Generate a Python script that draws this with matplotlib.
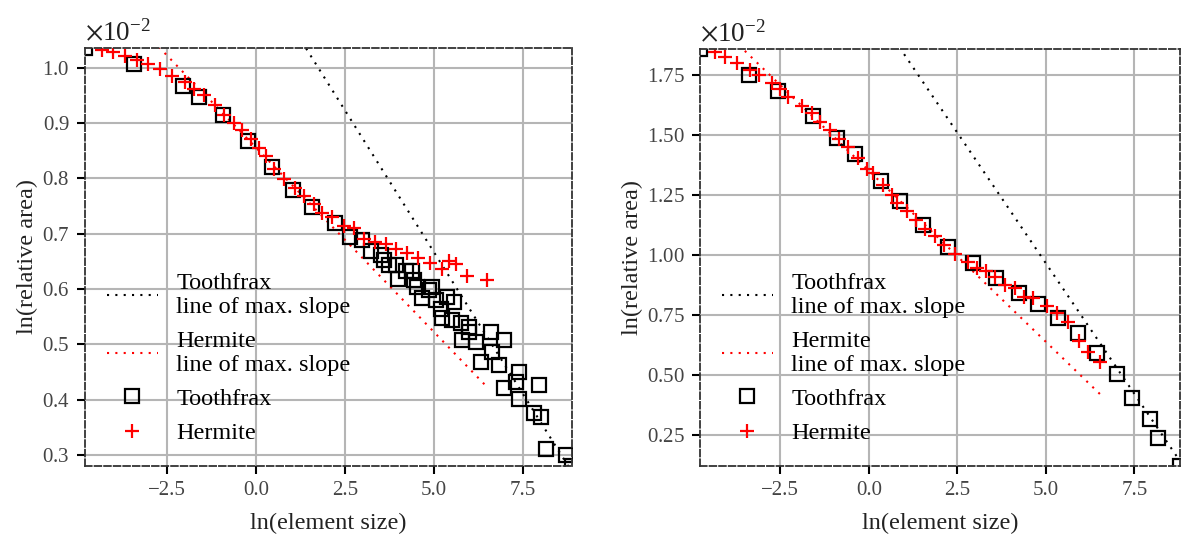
import matplotlib
matplotlib.use("Agg")
import matplotlib.pyplot as plt
import numpy as np
from matplotlib.ticker import ScalarFormatter

plt.rcParams['font.family'] = ['Liberation Serif', 'DejaVu Serif']
plt.rcParams['mathtext.fontset'] = 'stix'

# ---------------- data (y in units of 1e-2) ----------------
SCALE = 1e-2

# left panel
tf_x_L = [-4.80, -3.43, -2.05, -1.60, -0.93, -0.21, 0.45, 1.04, 1.57, 2.22, 2.64, 2.98, 3.23,
          3.51, 3.60, 3.74, 3.93, 3.99, 4.21, 4.38, 4.44, 4.52, 4.66, 4.86, 4.94, 5.06, 5.20,
          5.22, 5.37, 5.51, 5.56, 5.76, 5.79, 5.98, 5.98, 6.18, 6.32, 6.60, 6.63, 6.83, 6.97,
          6.97, 7.30, 7.39, 7.39, 7.81, 7.95, 8.01, 8.15, 8.71, 8.88]
tf_y_L = [1.036, 1.007, 0.967, 0.948, 0.914, 0.868, 0.820, 0.779, 0.749, 0.719, 0.695, 0.688, 0.668,
          0.662, 0.653, 0.644, 0.644, 0.619, 0.632, 0.632, 0.617, 0.603, 0.583, 0.599, 0.604, 0.581, 0.564,
          0.548, 0.586, 0.544, 0.577, 0.539, 0.508, 0.532, 0.523, 0.505, 0.468, 0.523, 0.486, 0.463, 0.508,
          0.421, 0.432, 0.450, 0.401, 0.376, 0.427, 0.368, 0.310, 0.299, 0.280]
hm_x_L = [-4.33, -4.02, -3.68, -3.34, -3.03, -2.70, -2.36, -1.99, -1.74, -1.46, -1.15, -0.90, -0.62,
          -0.39, -0.14, 0.08, 0.28, 0.51, 0.79, 1.10, 1.35, 1.63, 1.85, 2.13, 2.47, 2.75, 3.03, 3.34,
          3.65, 3.93, 4.24, 4.55, 4.89, 5.22, 5.42, 5.62, 5.93, 6.49]
hm_y_L = [1.033, 1.029, 1.022, 1.015, 1.007, 0.998, 0.986, 0.975, 0.962, 0.951, 0.933, 0.915, 0.900,
          0.887, 0.871, 0.855, 0.840, 0.817, 0.799, 0.782, 0.768, 0.753, 0.738, 0.731, 0.714, 0.710,
          0.691, 0.686, 0.681, 0.672, 0.666, 0.657, 0.648, 0.637, 0.651, 0.646, 0.624, 0.617]
# max-slope lines: (intercept, slope)
tf_line_L = (1.180, -0.1026)
hm_line_L = (0.856, -0.0667)
yticks_L = [0.3, 0.4, 0.5, 0.6, 0.7, 0.8, 0.9, 1.0]

# right panel
tf_x_R = [-4.77, -3.39, -2.57, -1.58, -0.90, -0.40, 0.34, 0.88, 1.53, 2.23, 2.94, 3.59, 4.24,
          4.77, 5.34, 5.90, 6.44, 7.01, 7.43, 7.94, 8.16, 8.79]
tf_y_R = [1.858, 1.750, 1.683, 1.579, 1.488, 1.421, 1.308, 1.225, 1.125, 1.033, 0.967, 0.904, 0.842,
          0.796, 0.737, 0.675, 0.592, 0.504, 0.404, 0.317, 0.237, 0.121]
hm_x_R = [-4.35, -4.07, -3.73, -3.36, -3.11, -2.74, -2.51, -2.27, -1.89, -1.61, -1.38, -1.10, -0.85,
          -0.59, -0.31, -0.06, 0.11, 0.40, 0.65, 0.79, 1.07, 1.33, 1.58, 1.86, 2.12, 2.42, 2.80, 3.05,
          3.31, 3.56, 3.84, 4.12, 4.38, 4.63, 5.03, 5.31, 5.62, 5.93, 6.19, 6.53]
hm_y_R = [1.846, 1.825, 1.800, 1.771, 1.750, 1.717, 1.692, 1.658, 1.621, 1.590, 1.554, 1.521, 1.483,
          1.450, 1.404, 1.358, 1.342, 1.292, 1.250, 1.217, 1.183, 1.145, 1.108, 1.077, 1.040, 1.006,
          0.971, 0.946, 0.933, 0.908, 0.875, 0.863, 0.825, 0.821, 0.788, 0.758, 0.721, 0.642, 0.596, 0.554]
tf_line_R = (2.053, -0.2175)
hm_line_R = (1.351, -0.1425)
yticks_R = [0.25, 0.50, 0.75, 1.00, 1.25, 1.50, 1.75]

xticks = [-2.5, 0.0, 2.5, 5.0, 7.5]

labels = ["Toothfrax\nline of max. slope", "Hermite\nline of max. slope", "Toothfrax", "Hermite"]

# ---------------- figure ----------------
W, H = 1182, 535
fig = plt.figure(figsize=(W / 100, H / 100), dpi=100)
ax1 = fig.add_axes([85 / W, 1 - 466 / H, (572 - 85) / W, (466 - 48) / H])
ax2 = fig.add_axes([700 / W, 1 - 466 / H, (1180 - 700) / W, (466 - 49) / H])

dot = (0, (1, 3))


def draw(ax, tfx, tfy, hmx, hmy, tfl, hml, yticks):
    tfx = np.array(tfx); tfy = np.array(tfy) * SCALE
    hmx = np.array(hmx); hmy = np.array(hmy) * SCALE
    lx1 = np.linspace(tfx.min(), tfx.max(), 200)
    lx2 = np.linspace(hmx.min(), hmx.max(), 200)
    ax.plot(lx1, (tfl[0] + tfl[1] * lx1) * SCALE, color='black', lw=1.5, ls=dot, label=labels[0])
    ax.plot(lx2, (hml[0] + hml[1] * lx2) * SCALE, color='red', lw=1.5, ls=dot, label=labels[1])
    ax.plot(tfx, tfy, ls='none', marker='s', ms=9.5, mfc='none', mec='black', mew=1.6,
            label=labels[2])
    ax.plot(hmx, hmy, ls='none', marker='+', ms=9.5, color='red', mew=1.6, label=labels[3])
    xmin = min(tfx.min(), hmx.min()); xmax = max(tfx.max(), hmx.max())
    ymin = min(tfy.min(), hmy.min()); ymax = max(tfy.max(), hmy.max())
    ax.set_xlim(xmin, xmax)
    ax.set_ylim(ymin, ymax)
    ax.set_xticks(xticks)
    ax.set_yticks(np.array(yticks) * SCALE)
    fmt = ScalarFormatter(useMathText=True)
    fmt.set_powerlimits((0, 0))
    ax.yaxis.set_major_formatter(fmt)
    ax.grid(True, color='#b5b5b5', lw=1.5)
    for s in ax.spines.values():
        s.set_linestyle('--')
        s.set_linewidth(1.3)
        s.set_color('#333333')
    ax.tick_params(direction='out', length=6, width=1.5, pad=5, labelsize=15,
                   labelcolor='#444444', color='black')
    ax.yaxis.OFFSETTEXTPAD = 6
    off = ax.yaxis.get_offset_text()
    off.set_fontsize(19.5)
    off.set_color('#222222')
    ax.set_xlabel('ln(element size)', fontsize=17.5, color='#222222', labelpad=9)
    ax.set_ylabel('ln(relative area)', fontsize=17.5, color='#222222', labelpad=3)
    ax.legend(loc='lower left', frameon=False, fontsize=17.5, handlelength=2.1,
              handletextpad=0.75)


draw(ax1, tf_x_L, tf_y_L, hm_x_L, hm_y_L, tf_line_L, hm_line_L, yticks_L)
draw(ax2, tf_x_R, tf_y_R, hm_x_R, hm_y_R, tf_line_R, hm_line_R, yticks_R)

fig.savefig('out.png', dpi=100)
